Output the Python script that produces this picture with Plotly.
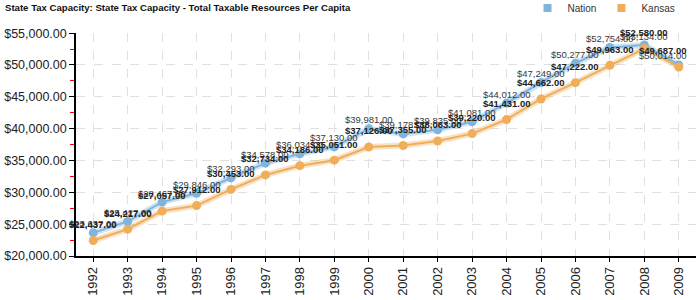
import plotly.graph_objects as go

years = [str(y) for y in range(1992, 2010)]
nation = [23637, 25427, 28467, 29846, 32293, 34578, 36034, 37130, 39981, 39178,
          39835, 41081, 44012, 47249, 50277, 52754, 53134, 50014]
kansas = [22437, 24217, 27057, 27912, 30453, 32734, 34186, 35051, 37126, 37355,
          38063, 39220, 41431, 44662, 47222, 49963, 52580, 49687]

NATION_C = "#7fb5dd"
KANSAS_C = "#f0ae5a"

fig = go.Figure()

# halos
fig.add_trace(go.Scatter(x=years, y=nation, mode="lines", line=dict(color=NATION_C, width=6),
                         opacity=0.35, showlegend=False, hoverinfo="skip"))
fig.add_trace(go.Scatter(x=years, y=kansas, mode="lines", line=dict(color=KANSAS_C, width=6),
                         opacity=0.35, showlegend=False, hoverinfo="skip"))
# main lines
fig.add_trace(go.Scatter(x=years, y=nation, mode="lines+markers", name="Nation",
                         line=dict(color=NATION_C, width=2),
                         marker=dict(color=NATION_C, size=9), showlegend=False))
fig.add_trace(go.Scatter(x=years, y=kansas, mode="lines+markers", name="Kansas",
                         line=dict(color=KANSAS_C, width=2),
                         marker=dict(color=KANSAS_C, size=9), showlegend=False))
# legend entries
fig.add_trace(go.Scatter(x=[None], y=[None], mode="markers", name="Nation",
                         marker=dict(symbol="square", color=NATION_C, size=8)))
fig.add_trace(go.Scatter(x=[None], y=[None], mode="markers", name="Kansas",
                         marker=dict(symbol="square", color=KANSAS_C, size=8)))

last = len(years) - 1
annotations = []
for series, fmt, shift, col in ((nation, "${:,.2f}", 9, "#3a3a3a"),
                                (kansas, "<b>${:,.2f}</b>", 16, "#222")):
    for i, v in enumerate(series):
        a = dict(x=i, y=v, xref="x", yref="y", text=fmt.format(v), showarrow=False,
                 yshift=shift, yanchor="middle",
                 font=dict(family="Liberation Sans, Arial", size=9.5, color=col))
        if i == last:
            a.update(xanchor="right", xshift=10)
        annotations.append(a)

fig.update_layout(
    width=700, height=300,
    margin=dict(l=70, r=4, t=31, b=41),
    paper_bgcolor="white", plot_bgcolor="white",
    font=dict(family="Liberation Sans, Arial", color="#222"),
    title=dict(text="<b>State Tax Capacity: State Tax Capacity - Total Taxable Resources Per Capita</b>",
               x=5/700, xanchor="left", y=1-8/300, yanchor="middle",
               font=dict(size=9.6, color="#111")),
    legend=dict(orientation="h", x=0.975, xanchor="right", y=1-8/300, yref="container",
                yanchor="middle", font=dict(size=10, color="#333"),
                itemwidth=30, tracegroupgap=0, bgcolor="rgba(0,0,0,0)"),
    annotations=annotations,
    showlegend=True,
)
fig.update_xaxes(type="category", range=[-0.5, 17.5], showline=True, linecolor="black", linewidth=1.5,
                 ticks="outside", ticklen=4, tickcolor="black", tickangle=-90,
                 tickfont=dict(size=13, color="#222"),
                 showgrid=True, gridcolor="#e0e0e0", griddash="dash", zeroline=False)
fig.update_yaxes(range=[20000, 55000], dtick=5000, tick0=20000, tickformat="$,.2f",
                 showline=True, linecolor="black", linewidth=1.5,
                 ticks="outside", ticklen=5, tickcolor="black",
                 tickfont=dict(size=12.5, color="#222"),
                 showgrid=True, gridcolor="#e0e0e0", griddash="dash", zeroline=False,
                 minor=dict(dtick=2500, tick0=22500, ticks="outside", ticklen=4, tickcolor="red",
                            showgrid=False))

fig.write_html("out.html")
